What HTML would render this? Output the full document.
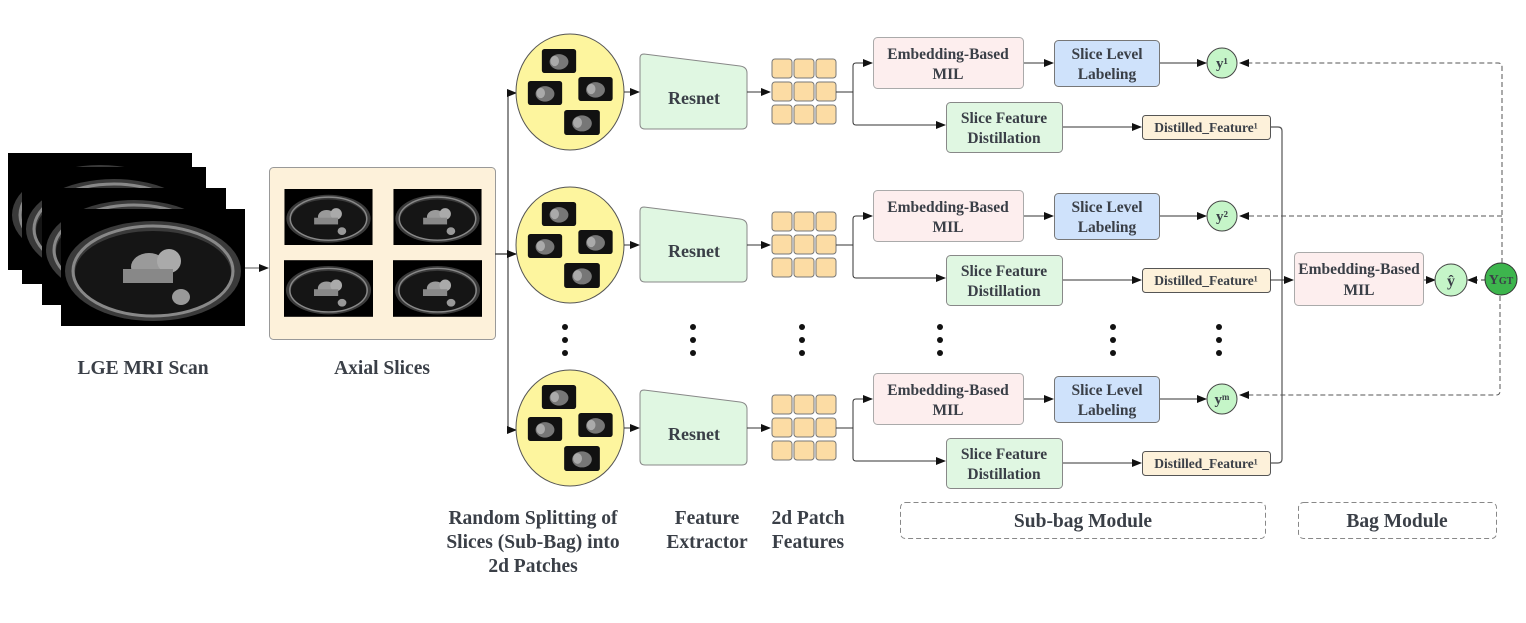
<!DOCTYPE html>
<html><head><meta charset="utf-8"><style>
html,body{margin:0;padding:0;background:#fff;}
svg{display:block;}
text{font-family:"Liberation Serif","DejaVu Serif",serif;fill:#3a3f47;font-weight:bold;}
.b{font-size:15.5px;}
.l{font-size:19.5px;}
</style></head><body>
<svg width="1526" height="623" viewBox="0 0 1526 623" xmlns="http://www.w3.org/2000/svg">
<defs>
<marker id="a" markerWidth="10" markerHeight="8" refX="9" refY="4" orient="auto" markerUnits="userSpaceOnUse"><path d="M0,0 L10,4 L0,8 z" fill="#111"/></marker>
<symbol id="mri" viewBox="0 0 184 117">
<rect width="184" height="117" fill="#000"/>
<ellipse cx="92" cy="62" rx="88" ry="50" fill="#3a3a3a"/>
<ellipse cx="92" cy="64" rx="78" ry="42" fill="#151515"/>
<ellipse cx="92" cy="62" rx="80" ry="45" fill="none" stroke="#888" stroke-width="3"/>
<ellipse cx="88" cy="58" rx="18" ry="14" fill="#9a9a9a"/>
<ellipse cx="108" cy="52" rx="12" ry="12" fill="#aaa"/>
<ellipse cx="120" cy="88" rx="9" ry="8" fill="#999"/>
<rect x="62" y="60" width="50" height="14" fill="#888"/>
</symbol>
<symbol id="pt" viewBox="0 0 40 28">
<rect width="40" height="28" rx="3" fill="#111"/>
<ellipse cx="20" cy="15" rx="11" ry="9" fill="#777"/>
<ellipse cx="15" cy="14" rx="5" ry="6" fill="#aaa"/>
</symbol>
</defs>

<use href="#mri" x="8" y="153" width="184" height="117"/>
<use href="#mri" x="22" y="167" width="184" height="117"/>
<use href="#mri" x="42" y="188" width="184" height="117"/>
<use href="#mri" x="61" y="209" width="184" height="117"/>
<line x1="245" y1="268" x2="268" y2="268" stroke="#555" marker-end="url(#a)"/>

<rect x="269.5" y="167.5" width="226" height="172" rx="4" fill="#fdf1da" stroke="#999"/>
<use href="#mri" x="284" y="189" width="89" height="56"/>
<use href="#mri" x="393" y="189" width="89" height="56"/>
<use href="#mri" x="284" y="260" width="89" height="57"/>
<use href="#mri" x="393" y="260" width="89" height="57"/>

<text class="l" x="143" y="374" text-anchor="middle">LGE MRI Scan</text>
<text class="l" x="382" y="374" text-anchor="middle">Axial Slices</text>

<g stroke="#444" fill="none" stroke-width="1.2">
<path d="M495,254 H508"/>
<path d="M508,93 V430"/>
</g>
<g stroke="#444" stroke-width="1.2" marker-end="url(#a)">
<line x1="508" y1="93" x2="516" y2="93"/>
<line x1="495" y1="254" x2="516" y2="254"/>
<line x1="508" y1="430" x2="516" y2="430"/>
</g>

<g id="r1">
<ellipse cx="570" cy="92" rx="54" ry="58" fill="#fdf59e" stroke="#555"/>
<use href="#pt" x="540" y="49" width="38" height="24"/>
<use href="#pt" x="526" y="81" width="38" height="24"/>
<use href="#pt" x="577" y="77" width="37" height="24"/>
<use href="#pt" x="563" y="110" width="38" height="25"/>
<line x1="624" y1="92" x2="639" y2="92" stroke="#333" marker-end="url(#a)"/>
<path d="M644,54 L740,66 Q747,67 747,73 L747,124 Q747,129 742,129 L645,129 Q640,129 640,124 L640,58 Q640,54 644,54 Z" fill="#e0f7e2" stroke="#888"/>
<text x="694" y="104" text-anchor="middle" style="font-size:18px">Resnet</text>
<line x1="747" y1="92" x2="770" y2="92" stroke="#333" marker-end="url(#a)"/>
<g fill="#fcdca4" stroke="#777">
<rect x="772" y="59" width="20" height="19" rx="3"/><rect x="794" y="59" width="20" height="19" rx="3"/><rect x="816" y="59" width="20" height="19" rx="3"/>
<rect x="772" y="82" width="20" height="19" rx="3"/><rect x="794" y="82" width="20" height="19" rx="3"/><rect x="816" y="82" width="20" height="19" rx="3"/>
<rect x="772" y="105" width="20" height="19" rx="3"/><rect x="794" y="105" width="20" height="19" rx="3"/><rect x="816" y="105" width="20" height="19" rx="3"/>
</g>
<path d="M836,92 H853 V66 Q853,63 856,63 H872" fill="none" stroke="#333" marker-end="url(#a)"/>
<path d="M853,92 V122 Q853,125 856,125 H945" fill="none" stroke="#333" marker-end="url(#a)"/>
<rect x="873.5" y="37.5" width="150" height="51" rx="4" fill="#fdeeee" stroke="#aaa"/>
<text class="b" x="948" y="59" text-anchor="middle">Embedding-Based</text>
<text class="b" x="948" y="79" text-anchor="middle">MIL</text>
<line x1="1024" y1="63" x2="1053" y2="63" stroke="#333" marker-end="url(#a)"/>
<rect x="1054.5" y="40.5" width="105" height="46" rx="4" fill="#cfe2fb" stroke="#777"/>
<text class="b" x="1107" y="59" text-anchor="middle">Slice Level</text>
<text class="b" x="1107" y="79" text-anchor="middle">Labeling</text>
<line x1="1160" y1="63" x2="1206" y2="63" stroke="#333" marker-end="url(#a)"/>
<rect x="946.5" y="102.5" width="116" height="50" rx="4" fill="#e0f7e2" stroke="#888"/>
<text class="b" x="1004" y="123" text-anchor="middle">Slice Feature</text>
<text class="b" x="1004" y="143" text-anchor="middle">Distillation</text>
<line x1="1063" y1="127" x2="1141" y2="127" stroke="#333" marker-end="url(#a)"/>
<rect x="1142.5" y="115.5" width="128" height="24" rx="3" fill="#fdf1da" stroke="#555"/>
<text x="1206" y="132" text-anchor="middle" style="font-size:13.5px">Distilled_Feature¹</text>
</g>
<use href="#r1" y="153"/>
<use href="#r1" y="336"/>

<circle cx="1222" cy="63" r="15" fill="#c5f5c8" stroke="#444"/>
<text x="1222" y="68" text-anchor="middle" style="font-size:15px">y¹</text>
<circle cx="1222" cy="216" r="15" fill="#c5f5c8" stroke="#444"/>
<text x="1222" y="221" text-anchor="middle" style="font-size:15px">y²</text>
<circle cx="1222" cy="399" r="15" fill="#c5f5c8" stroke="#444"/>
<text x="1222" y="404" text-anchor="middle" style="font-size:15px">yᵐ</text>

<path d="M1270,127 H1278 Q1282,127 1282,131 V459 Q1282,463 1278,463 H1270" fill="none" stroke="#555" stroke-width="1.2"/>
<line x1="1270" y1="280" x2="1293" y2="280" stroke="#333" marker-end="url(#a)"/>
<rect x="1294.5" y="252.5" width="129" height="53" rx="4" fill="#fdeeee" stroke="#aaa"/>
<text class="b" x="1359" y="274" text-anchor="middle">Embedding-Based</text>
<text class="b" x="1359" y="295" text-anchor="middle">MIL</text>
<line x1="1424" y1="280" x2="1435" y2="280" stroke="#333" marker-end="url(#a)"/>
<circle cx="1451" cy="280" r="16" fill="#c5f5c8" stroke="#444"/>
<text x="1451" y="286" text-anchor="middle" style="font-size:16px">ŷ</text>
<line x1="1485" y1="280" x2="1468" y2="280" stroke="#333" stroke-dasharray="4,3" marker-end="url(#a)"/>
<circle cx="1501" cy="279" r="16" fill="#3db54d" stroke="#333"/>
<text x="1501" y="284" text-anchor="middle" style="font-size:14px">Y<tspan style="font-size:10px">GT</tspan></text>
<g fill="none" stroke="#555" stroke-dasharray="5,3">
<path d="M1502,263 V67 Q1502,63 1498,63 H1240" marker-end="url(#a)"/>
<path d="M1502,216 H1240" marker-end="url(#a)"/>
<path d="M1500,296 V391 Q1500,395 1496,395 H1240" marker-end="url(#a)"/>
</g>

<g fill="#111">
<circle cx="565" cy="327" r="3"/><circle cx="565" cy="340" r="3"/><circle cx="565" cy="353" r="3"/>
<circle cx="693" cy="327" r="3"/><circle cx="693" cy="340" r="3"/><circle cx="693" cy="353" r="3"/>
<circle cx="802" cy="327" r="3"/><circle cx="802" cy="340" r="3"/><circle cx="802" cy="353" r="3"/>
<circle cx="940" cy="327" r="3"/><circle cx="940" cy="340" r="3"/><circle cx="940" cy="353" r="3"/>
<circle cx="1113" cy="327" r="3"/><circle cx="1113" cy="340" r="3"/><circle cx="1113" cy="353" r="3"/>
<circle cx="1219" cy="327" r="3"/><circle cx="1219" cy="340" r="3"/><circle cx="1219" cy="353" r="3"/>
</g>

<text class="l" x="533" y="524" text-anchor="middle">Random Splitting of</text>
<text class="l" x="533" y="548" text-anchor="middle">Slices (Sub-Bag) into</text>
<text class="l" x="533" y="572" text-anchor="middle">2d Patches</text>
<text class="l" x="707" y="524" text-anchor="middle">Feature</text>
<text class="l" x="707" y="548" text-anchor="middle">Extractor</text>
<text class="l" x="808" y="524" text-anchor="middle">2d Patch</text>
<text class="l" x="808" y="548" text-anchor="middle">Features</text>
<rect x="900.5" y="502.5" width="365" height="36" rx="5" fill="none" stroke="#888" stroke-dasharray="5,3"/>
<text class="l" x="1083" y="527" text-anchor="middle">Sub-bag Module</text>
<rect x="1298.5" y="502.5" width="198" height="36" rx="5" fill="none" stroke="#888" stroke-dasharray="5,3"/>
<text class="l" x="1397" y="527" text-anchor="middle">Bag Module</text>
</svg>
</body></html>
